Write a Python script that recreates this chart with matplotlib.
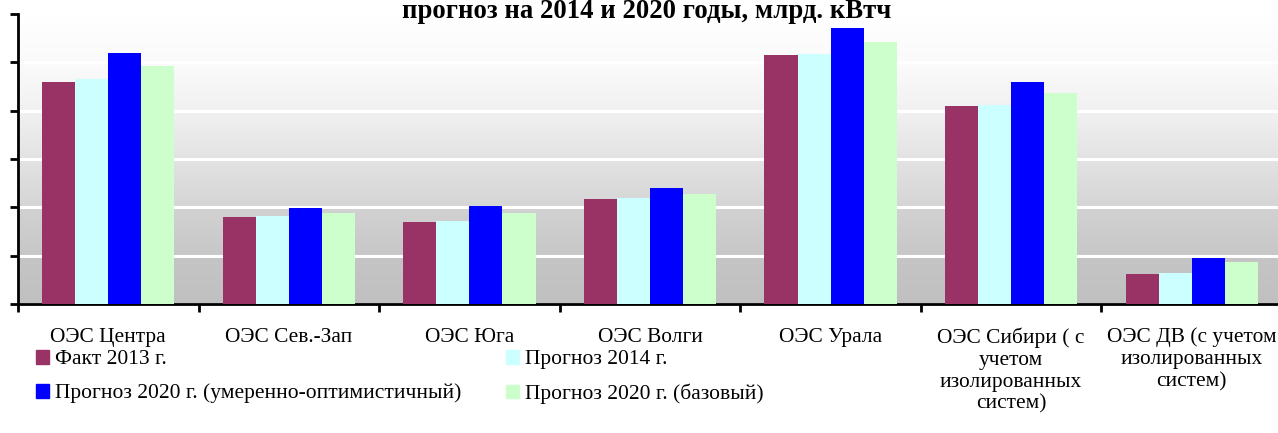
import matplotlib

matplotlib.use("Agg")
import matplotlib.pyplot as plt  # noqa: E402
import numpy as np  # noqa: E402
from matplotlib.patches import Patch  # noqa: E402

# values in bn kWh (gridline step = 50)
CATEGORIES = [
    "ОЭС Центра",
    "ОЭС Сев.-Зап",
    "ОЭС Юга",
    "ОЭС Волги",
    "ОЭС Урала",
    "ОЭС Сибири ( с\nучетом\nизолированных\nсистем)",
    "ОЭС ДВ (с учетом\nизолированных\nсистем)",
]
FACT_2013 = [229.7, 90.1, 84.8, 108.6, 257.6, 204.8, 31.0]
FORECAST_2014 = [232.8, 91.3, 85.5, 109.7, 258.6, 205.9, 32.0]
FORECAST_2020_OPT = [260.0, 99.3, 101.4, 120.0, 285.5, 230.0, 47.6]
FORECAST_2020_BASE = [246.5, 94.1, 94.1, 113.8, 271.0, 218.3, 43.4]
Y_TICKS = [0, 50, 100, 150, 200, 250, 300]

SERIES = [
    ("Факт 2013 г.", FACT_2013, "#993366"),
    ("Прогноз 2014 г.", FORECAST_2014, "#CCFFFF"),
    ("Прогноз 2020 г. (умеренно-оптимистичный)", FORECAST_2020_OPT, "#0000FF"),
    ("Прогноз 2020 г. (базовый)", FORECAST_2020_BASE, "#CCFFCC"),
]

plt.rcParams["font.family"] = ["Liberation Serif", "DejaVu Serif"]
FS_TICK = 15.4
FS_LEG = 15.5

W, H = 1278, 433
fig = plt.figure(figsize=(W / 100, H / 100), dpi=100)
ax = fig.add_axes([18 / W, 129 / H, 1264 / W, 290 / H])

# background: grey gradient, banded between gridlines
bands = [(255, 250), (251, 241), (241, 227), (227, 213), (210, 199), (197, 192)]
rows = []
for top, bot in bands:
    rows.extend(np.linspace(top, bot, 50))
g = np.array(rows)[:, None] / 255.0
grad = np.dstack([g, g, g])
ax.imshow(grad, extent=(-0.5, 6.5, 0, 300), aspect="auto", zorder=0,
          interpolation="bilinear")

x = np.arange(len(CATEGORIES))
w = 0.183
for i, (label, vals, color) in enumerate(SERIES):
    ax.bar(x + (i - 1.5) * w, vals, w, color=color, label=label, zorder=3,
           linewidth=0)

ax.set_xlim(-0.5, 6.5)
ax.set_ylim(0, 300)
ax.set_yticks(Y_TICKS)
ax.set_yticklabels([])
ax.yaxis.grid(True, color="white", linewidth=2.2, zorder=1)
ax.set_axisbelow(True)
ax.tick_params(axis="y", direction="out", length=6, width=2)

ax.set_xticks(np.arange(-0.5, 6.6, 1.0))
ax.set_xticklabels([])
ax.tick_params(axis="x", which="major", direction="out", length=6, width=2)
ax.set_xticks(x, minor=True)
ax.set_xticklabels(CATEGORIES, minor=True, fontsize=FS_TICK, linespacing=1.2)
ax.tick_params(axis="x", which="minor", length=0, pad=17)

for s in ("top", "right"):
    ax.spines[s].set_visible(False)
for s in ("left", "bottom"):
    ax.spines[s].set_linewidth(2)

fig.text(647 / W, 1 - 18 / H, "прогноз на 2014 и 2020 годы, млрд. кВтч",
         ha="center", va="baseline", fontsize=19.3, fontweight="bold")

handles = [Patch(color=c, label=l) for l, _, c in SERIES]
order = [0, 2, 1, 3]
fig.legend([handles[i] for i in order], [SERIES[i][0] for i in order],
           loc="center left", bbox_to_anchor=(36 / W, 1 - 377 / H),
           ncol=2, frameon=False, fontsize=FS_LEG, borderpad=0,
           handlelength=0.6, handleheight=0.6, handletextpad=0.3,
           columnspacing=2.05, labelspacing=0.66, borderaxespad=0)

fig.savefig("out.png", dpi=100)
